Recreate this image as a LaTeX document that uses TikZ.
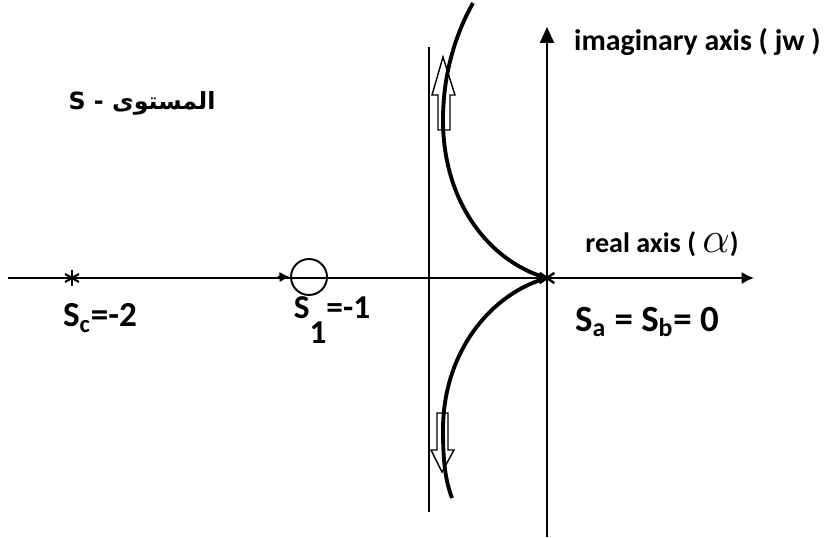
\documentclass[tikz,border=0pt]{standalone}
\usepackage{fontspec}
\setmainfont{Carlito}
\newfontfamily\arabicfont[Script=Arabic]{DejaVu Sans}
\TeXXeTstate=1
\usetikzlibrary{arrows.meta}

\begin{document}
\begin{tikzpicture}[x=0.02cm,y=-0.02cm,>=Latex]
\useasboundingbox (0,0) rectangle (826,538);
\coordinate (o) at (547,278);
\coordinate (rl) at (8,278);
\coordinate (rr) at (754,278);
\coordinate (ib) at (547,537);
\coordinate (it) at (547,27);
\coordinate (vt) at (429,47);
\coordinate (vb) at (429,512);
\coordinate (ut) at (473,3);
\coordinate (ub) at (452,498);
\node[inner sep=0pt,minimum size=14pt] (sc) at (72,278) {};
\node[draw,circle,line width=1.1pt,minimum size=0.72cm,inner sep=0pt] (s1) at (309,277) {};
% axes
\draw[line width=1.4pt,-{Latex[length=7pt,width=7pt]}] (rl)--(rr);
\draw[line width=1.4pt,shorten <=110pt,-{Latex[length=6pt,width=6pt]}] (sc)--(s1.west);
\draw[line width=0.9pt,-{Triangle[length=9pt,width=8pt]}] (ib)--(it);
\draw[line width=0.9pt] (vt)--(vb);
\foreach \a in {90,30,150} \draw[line width=1.2pt] (sc.center) +(\a:8) -- +(\a+180:8);
\foreach \a in {35,145} \draw[line width=1.4pt] (o) +(\a:9) -- +(\a+180:9);
% hollow arrows on the locus
\draw[line width=0.8pt,fill=white] (438,130)--(438,95)--(432,95)--(443,57)--(455,95)--(450,95)--(450,130)--cycle;
\draw[line width=0.8pt,fill=white] (437,413)--(437,450)--(431,450)--(442,472)--(454,450)--(448,450)--(448,413)--cycle;
% locus branches
\draw[line width=2.2pt] (o) .. controls (492,263) and (443,205) .. (443,120) .. controls (443,75) and (455,35) .. (ut);
\draw[line width=2.2pt] (o) .. controls (492,293) and (443,351) .. (443,430) .. controls (443,465) and (446,482) .. (ub);
% labels
\node[anchor=west,font=\fontsize{17}{20}\selectfont\bfseries] (imlab) at (568,42) {imaginary axis ( jw )};
\node[font=\fontsize{16}{19}\selectfont\bfseries] (relab) at (662,244) {real axis ( {\fontsize{24}{26}\selectfont$\alpha$})};
\node[font=\fontsize{21}{25}\selectfont\bfseries] (salab) at (647,322) {S\textsubscript{a} = S\textsubscript{b}= 0};
\node[font=\fontsize{20}{24}\selectfont\bfseries] (sclab) at (100,318) {S\textsubscript{c}=-2};
\node[font=\fontsize{19}{23}\selectfont\bfseries] (s1lab) at (332,320) {S\raisebox{-14pt}{1}=-1};
\node[font=\fontsize{13.5}{16}\selectfont\bfseries\arabicfont] (plab) at (142,103) {\beginR المستوى - S\endR};
\end{tikzpicture}
\end{document}
